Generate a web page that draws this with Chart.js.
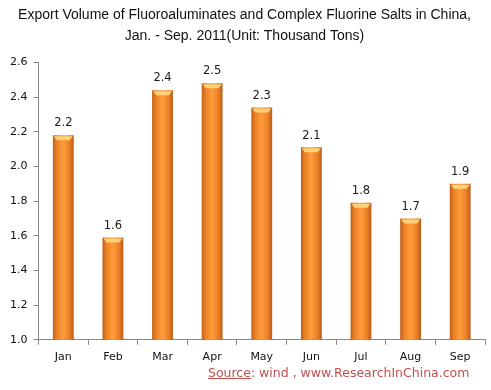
<!DOCTYPE html>
<html>
<head>
<meta charset="utf-8">
<script src="https://cdn.jsdelivr.net/npm/chart.js@4/dist/chart.umd.min.js"></script>
<style>
  html, body { margin: 0; padding: 0; background: #fff; }
  #wrap { position: relative; width: 491px; height: 390px; }
  #source { position: absolute; left: 208px; top: 365px; font-family: "DejaVu Sans", sans-serif; font-size: 12.5px; color: #c0504d; white-space: nowrap; }
</style>
</head>
<body>
<div id="wrap">
  <canvas id="c" width="491" height="390"></canvas>
  <div id="source"><u>Source</u>: wind , www.ResearchInChina.com</div>
</div>
<script>
const categories = ["Jan", "Feb", "Mar", "Apr", "May", "Jun", "Jul", "Aug", "Sep"];
const exportVolume = [2.18, 1.59, 2.44, 2.48, 2.34, 2.11, 1.79, 1.70, 1.90];
const yTicks = [1.0, 1.2, 1.4, 1.6, 1.8, 2.0, 2.2, 2.4, 2.6];
const titleLines = ["Export Volume of Fluoroaluminates and Complex Fluorine Salts in China,", "Jan. - Sep. 2011(Unit: Thousand Tons)"];

const BAR_PCT = 0.42;

function barGradient(c) {
  const chart = c.chart;
  const xs = chart.scales && chart.scales.x;
  if (!xs || !xs.width) return '#f58a2a';
  const cx = xs.getPixelForValue(c.dataIndex);
  const w = xs.width / categories.length * BAR_PCT;
  const l = cx - w / 2, r = cx + w / 2;
  const g = chart.ctx.createLinearGradient(l, 0, r, 0);
  g.addColorStop(0, '#c0601a');
  g.addColorStop(0.2, '#ee8226');
  g.addColorStop(0.5, '#ff9d3d');
  g.addColorStop(0.8, '#ea7e25');
  g.addColorStop(1, '#b85c1a');
  return g;
}

const barStyle = {
  id: 'barStyle',
  afterDatasetsDraw(chart) {
    const ctx = chart.ctx;
    const ds = chart.data.datasets[0];
    ctx.save();
    chart.getDatasetMeta(0).data.forEach((bar, i) => {
      const l = bar.x - bar.width / 2, r = bar.x + bar.width / 2;
      ctx.fillStyle = '#ffd27a';
      ctx.beginPath();
      ctx.moveTo(l + 1, bar.y + 1);
      ctx.lineTo(r - 1, bar.y + 1);
      ctx.lineTo(r - 4, bar.y + 5);
      ctx.lineTo(l + 4, bar.y + 5);
      ctx.closePath();
      ctx.fill();
      ctx.fillStyle = '#1a1a1a';
      ctx.font = '11.5px "DejaVu Sans", sans-serif';
      ctx.textAlign = 'center';
      ctx.textBaseline = 'bottom';
      ctx.fillText(ds.data[i].toFixed(1), bar.x, bar.y - 6);
    });
    ctx.restore();
  }
};

new Chart(document.getElementById('c'), {
  type: 'bar',
  data: {
    labels: categories,
    datasets: [{
      data: exportVolume,
      backgroundColor: barGradient,
      borderWidth: 0,
      barPercentage: BAR_PCT,
      categoryPercentage: 1.0
    }]
  },
  options: {
    responsive: false,
    animation: false,
    layout: { padding: { left: 4, right: 6, top: 0, bottom: 20 } },
    plugins: {
      legend: { display: false },
      tooltip: { enabled: false },
      title: {
        display: true,
        text: titleLines,
        color: '#111',
        font: { family: '"Liberation Sans", sans-serif', size: 14, weight: 'normal', lineHeight: 1.55 },
        padding: { top: 4, bottom: 15 }
      }
    },
    scales: {
      x: {
        grid: { display: true, drawOnChartArea: false, color: '#888', tickLength: 5 },
        border: { color: '#888' },
        ticks: { color: '#111', font: { family: '"DejaVu Sans", sans-serif', size: 11 }, padding: 6 }
      },
      y: {
        min: 1.0,
        max: 2.6,
        afterBuildTicks(axis) { axis.ticks = yTicks.map(v => ({ value: v })); },
        grid: { display: true, drawOnChartArea: false, color: '#888', tickLength: 5 },
        border: { color: '#888' },
        ticks: {
          color: '#111',
          font: { family: '"DejaVu Sans", sans-serif', size: 11 },
          padding: 6,
          callback: v => Number(v).toFixed(1)
        }
      }
    }
  },
  plugins: [barStyle]
});
</script>
</body>
</html>
